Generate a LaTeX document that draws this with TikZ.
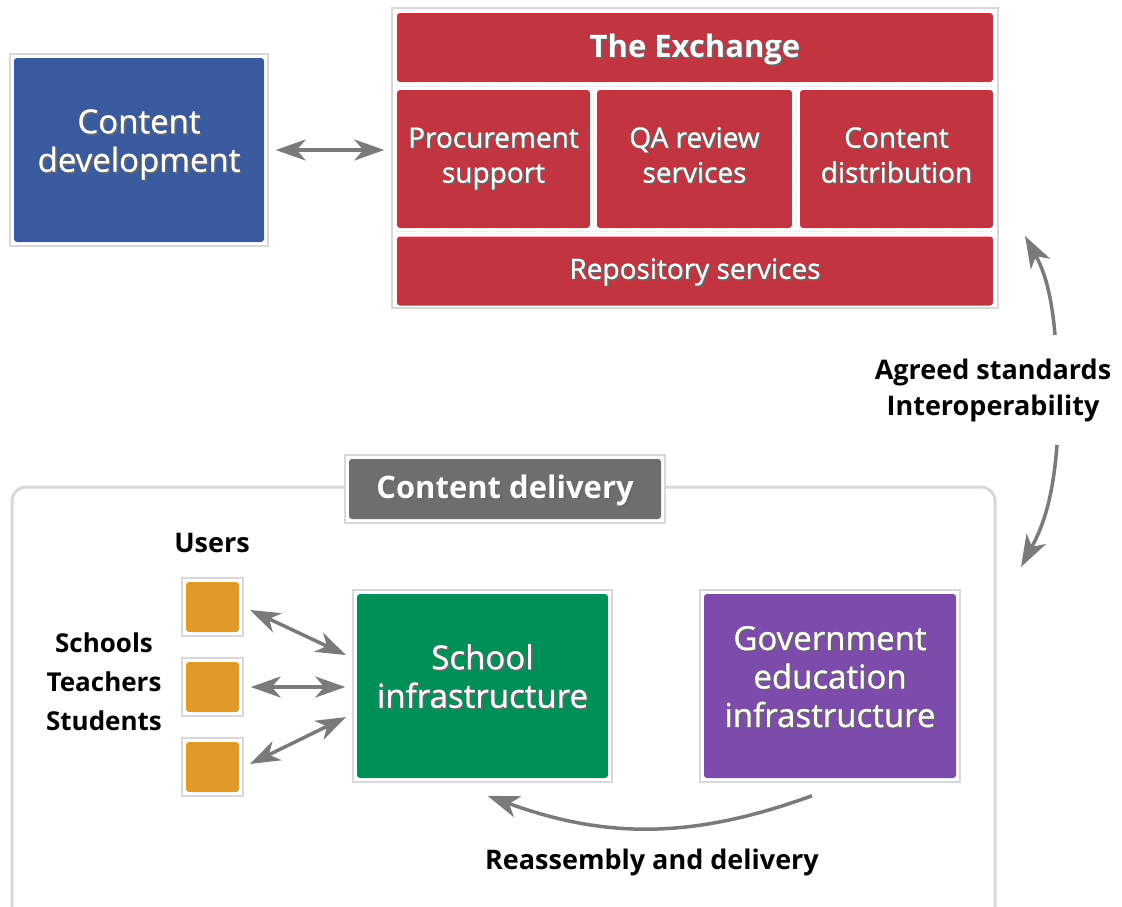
\documentclass[tikz,border=0pt]{standalone}
\usepackage{fontspec}
\setmainfont{Open Sans}
\newfontfamily\boxfont{Open Sans}[FakeBold=0.8]
\usepackage{tikz}
\usetikzlibrary{positioning}
\usetikzlibrary{arrows.meta}
\definecolor{devblue}{HTML}{3A5AA0}
\definecolor{exred}{HTML}{C23440}
\definecolor{schoolgreen}{HTML}{008F57}
\definecolor{govpurple}{HTML}{7D4BAB}
\definecolor{userorange}{HTML}{E0992B}
\definecolor{delgray}{HTML}{6E6E6E}
\definecolor{framegray}{HTML}{D8D8D8}
\definecolor{arrowgray}{HTML}{7A7A7A}
\newcommand{\shadowed}[1]{\leavevmode\rlap{\hspace{1.8pt}\raisebox{-1.8pt}{\textcolor{black!60}{\begin{tabular}[b]{@{}c@{}}#1\end{tabular}}}}\begin{tabular}[b]{@{}c@{}}#1\end{tabular}}
\tikzset{
    tile/.style={draw=framegray, line width=1.5pt, fill=white, inner sep=0pt,
        path picture={\fill[#1, rounded corners=3pt]
            ([shift={(4pt,-4pt)}]path picture bounding box.north west) rectangle
            ([shift={(-4pt,4pt)}]path picture bounding box.south east);},
        text=white, align=center, font=\boxfont\fontsize{33}{38.5}\selectfont},
    bigtile/.style={tile=#1, minimum height=192pt, text depth=22pt},
    redbox/.style={fill=exred, rounded corners=3pt, inner sep=0pt, text=white,
        align=center, font=\boxfont\fontsize{28}{35}\selectfont},
    link/.style={draw=arrowgray, line width=3.5pt, shorten <=7pt, shorten >=7pt,
        {Stealth[length=30pt,width=21pt,inset=9pt]}-{Stealth[length=30pt,width=21pt,inset=9pt]}},
    flow/.style={draw=arrowgray, line width=3.5pt, -{Stealth[length=32pt,width=22pt,inset=9pt]}},
    gap/.style={draw=framegray, line width=1pt, dotted},
    tag/.style={font=\bfseries\fontsize{27}{36}\selectfont, align=center}
}
\begin{document}
\begin{tikzpicture}[x=1pt, y=-1pt]
    \useasboundingbox (0,0) rectangle (1122,906);
    % top part
    \node[bigtile=devblue, minimum width=258pt] (dev) at (139,150) {\shadowed{Content\\development}};
    \node[draw=framegray, line width=1.5pt, minimum width=606pt, minimum height=300pt] (exchange) at (695,158) {};
    \draw[gap] (397,86) -- (993,86);
    \draw[gap] (397,231.5) -- (993,231.5);
    \foreach \x in {593.5,796}
        \draw[gap] (\x,90) -- (\x,228);
    \node[redbox, minimum width=596pt, minimum height=69pt, text height=32pt, font=\bfseries\fontsize{31}{35}\selectfont] (title) at (695,47.5) {\shadowed{The Exchange}};
    \node[redbox, minimum width=193pt, minimum height=138pt] (proc) at (493.5,159) {\shadowed{Procurement\\support}};
    \node[redbox, minimum width=195pt, minimum height=138pt] (qa) at (694.5,159) {\shadowed{QA review\\services}};
    \node[redbox, minimum width=193pt, minimum height=138pt] (dist) at (896.5,159) {\shadowed{Content\\distribution}};
    \node[redbox, minimum width=596pt, minimum height=69pt, text height=28pt] (repo) at (695,271) {\shadowed{Repository services}};
    \draw[link] (dev.east) -- (dev.east -| exchange.west);

    \node[tag] (std) at (993,390) {Agreed standards\\Interoperability};
    \coordinate (exin) at (1025,236);
    \coordinate (delin) at (1021,567);
    \draw[flow] ([xshift=62pt,yshift=20pt]std.north) to[bend right=12] (exin);
    \draw[flow] ([xshift=64pt,yshift=-20pt]std.south) to[bend left=12] (delin);

    % content delivery
    \node[draw=framegray, line width=3pt, rounded corners=14pt, minimum width=983pt, minimum height=450pt] (delivery) at (503.5,712) {};
    \node[tile=delgray, minimum width=320pt, minimum height=68pt, text height=30pt, font=\bfseries\fontsize{31}{34}\selectfont] (deltitle) at (505,489) {\shadowed{Content delivery}};
    \node[tag] (users) at (212,543) {Users};
    \foreach \i/\y in {1/607,2/687,3/767}
        \node[tile=userorange, minimum width=61pt, minimum height=58pt] (u\i) at (212.5,\y) {};
    \node[tag, font=\bfseries\fontsize{26}{39}\selectfont] (roles) at (104,682) {Schools\\Teachers\\Students};
    \node[bigtile=schoolgreen, minimum width=259pt] (school) at (482.5,686) {\shadowed{School\\infrastructure}};
    \node[bigtile=govpurple, minimum width=260pt] (gov) at (830,686) {\shadowed{Government\\education\\infrastructure}};
    \draw[link] (u1.east) -- ([yshift=28pt]school.west);
    \draw[link] (u2.east) -- (u2.east -| school.west);
    \draw[link] (u3.east) -- ([yshift=-28pt]school.west);
    \draw[flow] ([xshift=-18pt,yshift=-13pt]gov.south) to[bend left=20] ([xshift=5pt,yshift=-13pt]school.south);
    \node[tag] (reasm) at (652,862) {Reassembly and delivery};
\end{tikzpicture}
\end{document}
